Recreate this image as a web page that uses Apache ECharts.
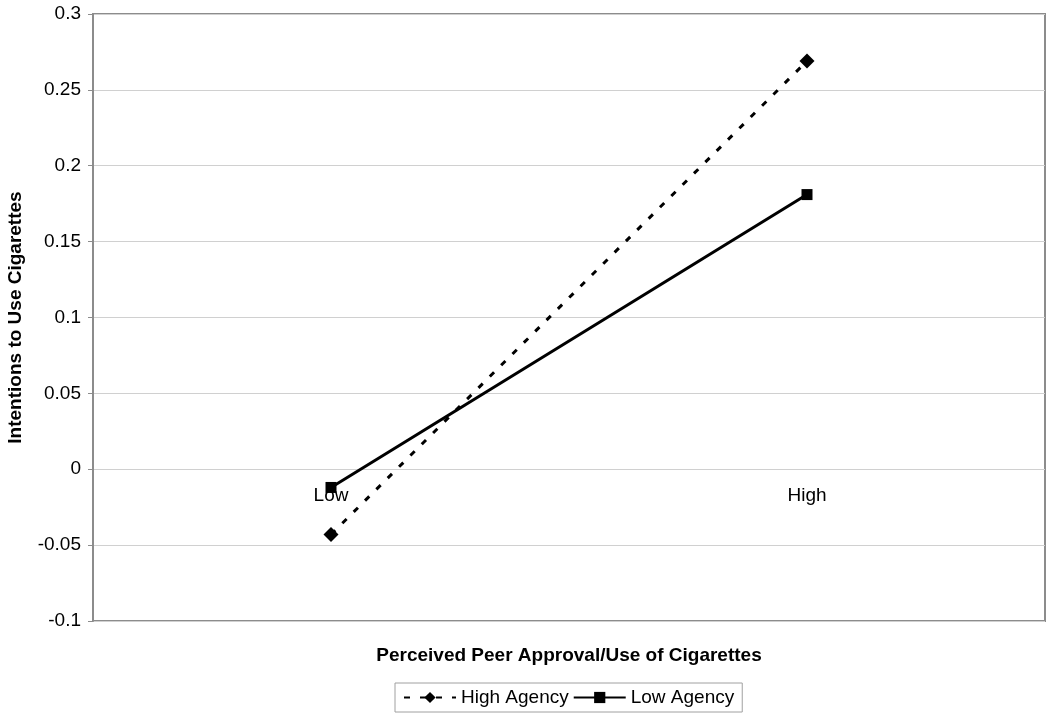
<!DOCTYPE html>
<head>
    <meta charset="utf-8">
    <title>Intentions to Use Cigarettes</title>
    <style>
        html, body, #chart { margin: 0; padding: 0; width: 1050px; height: 715px; background: #fff; }
    </style>
</head>
<body>
    <div id="chart"></div>
    <script src="https://cdn.jsdelivr.net/npm/echarts@6/dist/echarts.min.js"></script>
    <script type="text/javascript">
        // data
        var categories = ['Low', 'High'];
        var highAgency = [-0.043, 0.269];
        var lowAgency = [-0.012, 0.181];
        var yMin = -0.1, yMax = 0.3, yStep = 0.05;

        var font = 'Liberation Sans, Arial, sans-serif';
        var gridTop = 14, gridBottom = 94;
        var plotHeight = 715 - gridTop - gridBottom;
        // category labels sit on the zero line, not at the bottom of the plot
        var zeroOffset = -plotHeight * (0 - yMin) / (yMax - yMin);

        var myChart = echarts.init(document.getElementById('chart'));

        myChart.setOption({
            animation: false,
            textStyle: { fontFamily: font },
            grid: {
                left: 93, right: 5, top: gridTop, bottom: gridBottom,
                containLabel: false,
                outerBoundsMode: 'none',
                show: true,
                borderColor: '#8c8c8c',
                borderWidth: 2
            },
            legend: {
                bottom: 3,
                left: 395,
                itemWidth: 52,
                itemHeight: 14,
                itemGap: 4,
                padding: [5, 8],
                borderColor: '#a0a0a0',
                borderWidth: 1,
                borderRadius: 0,
                textStyle: { fontSize: 19, color: '#000', fontFamily: font },
                data: ['High Agency', 'Low Agency']
            },
            xAxis: {
                type: 'category',
                data: categories,
                offset: zeroOffset,
                name: 'Perceived Peer Approval/Use of Cigarettes',
                nameLocation: 'middle',
                nameGap: 177,
                nameTextStyle: { fontSize: 19, fontWeight: 'bold', color: '#000', fontFamily: font },
                axisLine: { show: false },
                axisTick: { show: false },
                axisLabel: { fontSize: 19, color: '#000', margin: 17, fontFamily: font }
            },
            yAxis: {
                type: 'value',
                min: yMin,
                max: yMax,
                interval: yStep,
                name: 'Intentions to Use Cigarettes',
                nameLocation: 'middle',
                nameGap: 68,
                nameTextStyle: { fontSize: 19, fontWeight: 'bold', color: '#000', fontFamily: font },
                axisLine: { show: true, lineStyle: { color: '#8c8c8c', width: 2 } },
                axisTick: { show: true, length: 5, lineStyle: { color: '#8c8c8c' } },
                axisLabel: {
                    fontSize: 19, color: '#000', margin: 12, fontFamily: font,
                    formatter: function (v) { return String(Math.round(v * 100) / 100); }
                },
                splitLine: { lineStyle: { color: '#d0d0d0', width: 1 } }
            },
            series: [{
                name: 'High Agency',
                type: 'line',
                data: highAgency,
                symbol: 'diamond',
                symbolSize: 15,
                itemStyle: { color: '#000' },
                lineStyle: { color: '#000', width: 3, type: [6, 10] }
            }, {
                name: 'Low Agency',
                type: 'line',
                data: lowAgency,
                symbol: 'rect',
                symbolSize: 11,
                itemStyle: { color: '#000' },
                lineStyle: { color: '#000', width: 3 }
            }]
        });
    </script>
</body>
